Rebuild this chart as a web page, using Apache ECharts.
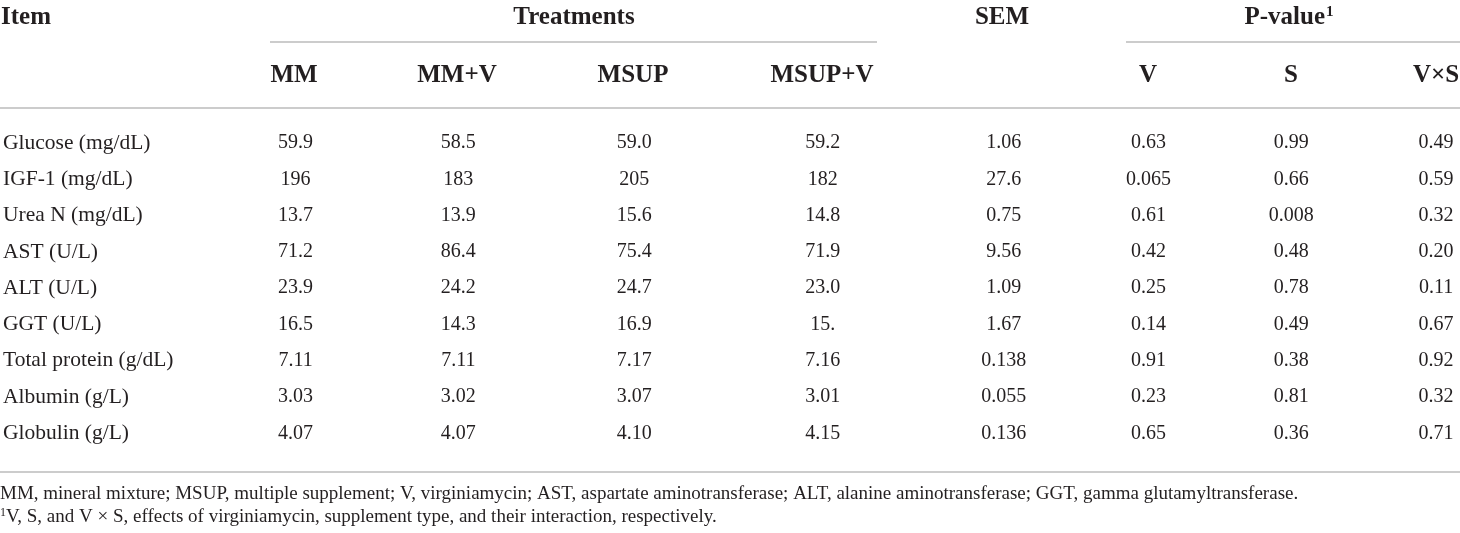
<!DOCTYPE html>
<html>
<head>
    <meta charset="utf-8">
    <title>Blood metabolites</title>
    <script src="https://cdn.jsdelivr.net/npm/echarts@6/dist/echarts.min.js"></script>
    <style>
        html, body { margin: 0; padding: 0; background: #fff; }
    </style>
</head>
<body>
    <div id="main" style="width:1460px;height:533px;"></div>
    <script type="text/javascript">
        // table contents
        var items = ['Glucose (mg/dL)', 'IGF-1 (mg/dL)', 'Urea N (mg/dL)', 'AST (U/L)', 'ALT (U/L)',
            'GGT (U/L)', 'Total protein (g/dL)', 'Albumin (g/L)', 'Globulin (g/L)'];
        var treatNames = ['MM', 'MM+V', 'MSUP', 'MSUP+V'];
        var pNames = ['V', 'S', 'V×S'];

        var mm     = ['59.9', '196', '13.7', '71.2', '23.9', '16.5', '7.11', '3.03', '4.07'];
        var mmV    = ['58.5', '183', '13.9', '86.4', '24.2', '14.3', '7.11', '3.02', '4.07'];
        var msup   = ['59.0', '205', '15.6', '75.4', '24.7', '16.9', '7.17', '3.07', '4.10'];
        var msupV  = ['59.2', '182', '14.8', '71.9', '23.0', '15.', '7.16', '3.01', '4.15'];
        var sem    = ['1.06', '27.6', '0.75', '9.56', '1.09', '1.67', '0.138', '0.055', '0.136'];
        var pV     = ['0.63', '0.065', '0.61', '0.42', '0.25', '0.14', '0.91', '0.23', '0.65'];
        var pS     = ['0.99', '0.66', '0.008', '0.48', '0.78', '0.49', '0.38', '0.81', '0.36'];
        var pVS    = ['0.49', '0.59', '0.32', '0.20', '0.11', '0.67', '0.92', '0.32', '0.71'];

        var footnote1 = 'MM, mineral mixture; MSUP, multiple supplement; V, virginiamycin; AST, aspartate aminotransferase; ALT, alanine aminotransferase; GGT, gamma glutamyltransferase.';
        var footnote2 = 'V, S, and V × S, effects of virginiamycin, supplement type, and their interaction, respectively.';

        // layout
        var columns = [mm, mmV, msup, msupV, sem, pV, pS, pVS];
        var colX = [294, 457, 633, 822, 1003, 1148, 1291, 1436];
        var FONT = '"Liberation Serif", "Times New Roman", serif';
        var INK = '#231f20';
        var RULE = '#cccccc';
        var firstRow = 143, rowStep = 36.3;

        var cells = [];
        for (var r = 0; r < items.length; r++) {
            for (var c = 0; c < columns.length; c++) {
                cells.push([colX[c], r, columns[c][r]]);
            }
        }

        function hText(txt, x, y, align) {
            return {
                type: 'text', x: x, y: y,
                style: {
                    text: txt, fill: INK, font: 'bold 25px ' + FONT,
                    textAlign: align || 'center', textVerticalAlign: 'middle'
                }
            };
        }
        function rule(x1, x2, y) {
            return {
                type: 'line',
                shape: { x1: x1, y1: y, x2: x2, y2: y },
                style: { stroke: RULE, lineWidth: 2 }
            };
        }

        var graphics = [
            hText('Item', 1, 18, 'left'),
            hText('Treatments', 574, 18),
            hText('SEM', 1002, 18),
            {
                type: 'text', x: 1289, y: 18,
                style: {
                    text: '{a|P-value}{s|1}',
                    textAlign: 'center', textVerticalAlign: 'middle',
                    rich: {
                        a: { fontFamily: FONT, fontWeight: 'bold', fontSize: 25, fill: INK, color: INK },
                        s: { fontFamily: FONT, fontWeight: 'bold', fontSize: 15, fill: INK, color: INK, padding: [0, 0, 11, 1] }
                    }
                }
            },
            rule(270, 877, 42),
            rule(1126, 1460, 42),
            rule(0, 1460, 108),
            rule(0, 1460, 472),
            {
                type: 'text', x: 0, y: 494,
                style: { text: footnote1, fill: INK, font: '19px ' + FONT, textAlign: 'left', textVerticalAlign: 'middle' }
            },
            {
                type: 'text', x: 0, y: 517,
                style: {
                    text: '{s|1}{a|' + footnote2 + '}',
                    textAlign: 'left', textVerticalAlign: 'middle',
                    rich: {
                        a: { fontFamily: FONT, fontSize: 19, fill: INK, color: INK },
                        s: { fontFamily: FONT, fontSize: 12, fill: INK, color: INK, padding: [0, 0, 9, 0] }
                    }
                }
            }
        ];
        for (var i = 0; i < treatNames.length; i++) {
            graphics.push(hText(treatNames[i], colX[i], 76));
        }
        for (var j = 0; j < pNames.length; j++) {
            graphics.push(hText(pNames[j], colX[5 + j], 76));
        }

        var myChart = echarts.init(document.getElementById('main'));

        var option = {
            animation: false,
            backgroundColor: '#fff',
            grid: {
                left: 0, right: 0,
                top: firstRow - rowStep / 2,
                height: rowStep * items.length
            },
            xAxis: { type: 'value', min: 0, max: 1460, show: false },
            yAxis: {
                type: 'category',
                inverse: true,
                data: items,
                axisLine: { show: false },
                axisTick: { show: false },
                splitLine: { show: false },
                axisLabel: {
                    inside: true,
                    margin: 1,
                    color: INK,
                    fontFamily: FONT,
                    fontSize: 21.5
                }
            },
            graphic: graphics,
            series: [{
                type: 'custom',
                data: cells,
                encode: { x: 0, y: 1 },
                renderItem: function (params, api) {
                    var p = api.coord([api.value(0), api.value(1)]);
                    return {
                        type: 'text',
                        x: p[0], y: p[1],
                        style: {
                            text: cells[params.dataIndex][2],
                            fill: INK,
                            font: '20px ' + FONT,
                            textAlign: 'center',
                            textVerticalAlign: 'middle'
                        }
                    };
                }
            }]
        };

        myChart.setOption(option);
    </script>
</body>
</html>
